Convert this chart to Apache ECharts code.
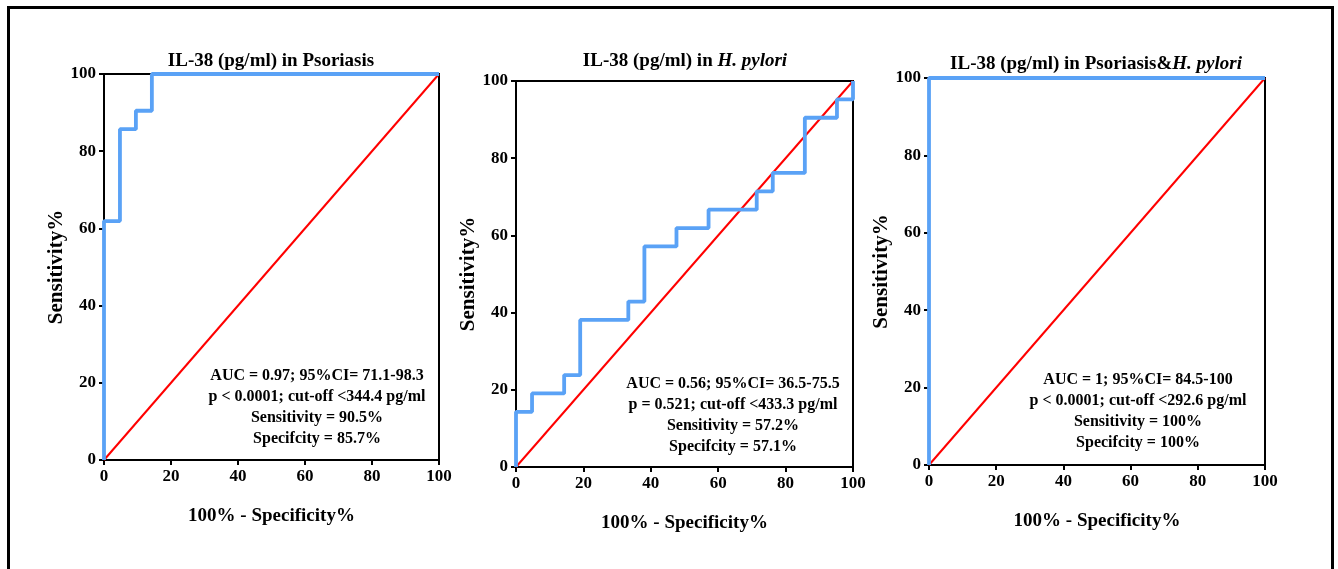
<!DOCTYPE html>
<html>
<head>
<meta charset="utf-8">
<script src="https://cdn.jsdelivr.net/npm/echarts@6/dist/echarts.min.js"></script>
<style>
  html, body { margin: 0; padding: 0; background: #fff; }
  #chart { width: 1338px; height: 569px; }
</style>
</head>
<body>
<div id="chart"></div>
<script>
// ROC operating points (100% - specificity, sensitivity)
const psoFpr = [0, 0, 4.76, 9.52, 14.29, 100]
const psoSens = [0, 61.9, 85.71, 90.48, 100, 100]

const hpFpr = [0, 0, 4.76, 14.29, 19.05, 33.33, 38.1, 47.62, 57.14, 71.43, 76.19, 85.71, 95.24, 100]
const hpSens = [0, 14.29, 19.05, 23.81, 38.1, 42.86, 57.14, 61.9, 66.67, 71.43, 76.19, 90.48, 95.24, 100]

const bothFpr = [0, 0, 100]
const bothSens = [0, 100, 100]

const refLine = [[0, 0], [100, 100]]

const annotations = [
  ['AUC = 0.97; 95%CI= 71.1-98.3', 'p < 0.0001; cut-off <344.4 pg/ml', 'Sensitivity = 90.5%', 'Specifcity = 85.7%'],
  ['AUC = 0.56; 95%CI= 36.5-75.5', 'p = 0.521; cut-off <433.3 pg/ml', 'Sensitivity = 57.2%', 'Specifcity = 57.1%'],
  ['AUC = 1; 95%CI= 84.5-100', 'p < 0.0001; cut-off <292.6 pg/ml', 'Sensitivity = 100%', 'Specifcity = 100%']
]

const FONT = '"Liberation Serif", "Times New Roman", serif'
const BLUE = '#5aa2f6'

// horizontal first, then vertical (ROC staircase)
function staircase(xs, ys) {
  const pts = [[xs[0], ys[0]]]
  for (let i = 1; i < xs.length; i++) {
    pts.push([xs[i], ys[i - 1]])
    pts.push([xs[i], ys[i]])
  }
  return pts
}

const grids = [
  { left: 104, top: 74, width: 335, height: 386 },
  { left: 516, top: 81, width: 337, height: 386 },
  { left: 929, top: 78, width: 336, height: 387 }
]

const axisCommon = {
  type: 'value',
  min: 0,
  max: 100,
  interval: 20,
  axisLine: { show: true, lineStyle: { color: '#000', width: 2 } },
  axisTick: { show: true, length: 5, inside: false, lineStyle: { color: '#000', width: 2 } },
  axisLabel: { color: '#000', fontFamily: FONT, fontSize: 17, fontWeight: 'bold' },
  splitLine: { show: false },
  nameLocation: 'middle'
}

const xAxes = grids.map((g, i) => Object.assign({}, axisCommon, {
  gridIndex: i,
  name: '100% - Specificity%',
  nameGap: 47,
  nameTextStyle: { color: '#000', fontFamily: FONT, fontSize: 19, fontWeight: 'bold' },
  axisLabel: Object.assign({}, axisCommon.axisLabel, { margin: 8 })
}))
const yAxes = grids.map((g, i) => Object.assign({}, axisCommon, {
  gridIndex: i,
  name: 'Sensitivity%',
  nameGap: 37,
  nameTextStyle: { color: '#000', fontFamily: FONT, fontSize: 21, fontWeight: 'bold' },
  axisLabel: Object.assign({}, axisCommon.axisLabel, { margin: 8 })
}))

const curves = [staircase(psoFpr, psoSens), staircase(hpFpr, hpSens), staircase(bothFpr, bothSens)]
const series = []
curves.forEach((pts, i) => {
  series.push({
    type: 'line', xAxisIndex: i, yAxisIndex: i, data: refLine,
    symbol: 'none', lineStyle: { color: '#ff0000', width: 2 }, z: 3, silent: true
  })
  series.push({
    type: 'line', xAxisIndex: i, yAxisIndex: i, data: pts,
    symbol: 'none', lineStyle: { color: BLUE, width: 3.8 }, z: 4, silent: true
  })
})

const titleStyle = { color: '#000', fontFamily: FONT, fontSize: 19, fontWeight: 'bold' }
const italicRich = { i: Object.assign({}, titleStyle, { fontStyle: 'italic' }) }
const titles = [
  { text: 'IL-38 (pg/ml) in Psoriasis', left: 266, top: 47, textAlign: 'center', textStyle: titleStyle },
  {
    text: 'IL-38 (pg/ml) in {i|H. pylori}', left: 680, top: 47, textAlign: 'center',
    textStyle: Object.assign({}, titleStyle, { rich: italicRich })
  },
  {
    text: 'IL-38 (pg/ml) in Psoriasis&{i|H. pylori}', left: 1091, top: 50, textAlign: 'center',
    textStyle: Object.assign({}, titleStyle, { rich: italicRich })
  }
]

const annoPos = [[317, 365], [733, 373], [1138, 369]]
const graphics = [{
  type: 'rect', shape: { x: 8.5, y: 7.5, width: 1324, height: 620 },
  style: { fill: 'none', stroke: '#000', lineWidth: 3 }, silent: true
}]
annotations.forEach((lines, i) => {
  graphics.push({
    type: 'text', x: annoPos[i][0], y: annoPos[i][1], silent: true,
    style: {
      text: lines.join('\n'), fill: '#000', font: 'bold 16px ' + FONT,
      textAlign: 'center', lineHeight: 21
    }
  })
})

const chart = echarts.init(document.getElementById('chart'), null, { renderer: 'canvas' })
chart.setOption({
  animation: false,
  backgroundColor: '#fff',
  title: titles,
  grid: grids.map(g => Object.assign({ show: true, borderColor: '#000', borderWidth: 2, backgroundColor: 'transparent' }, g)),
  xAxis: xAxes,
  yAxis: yAxes,
  series: series,
  graphic: graphics
})
</script>
</body>
</html>
